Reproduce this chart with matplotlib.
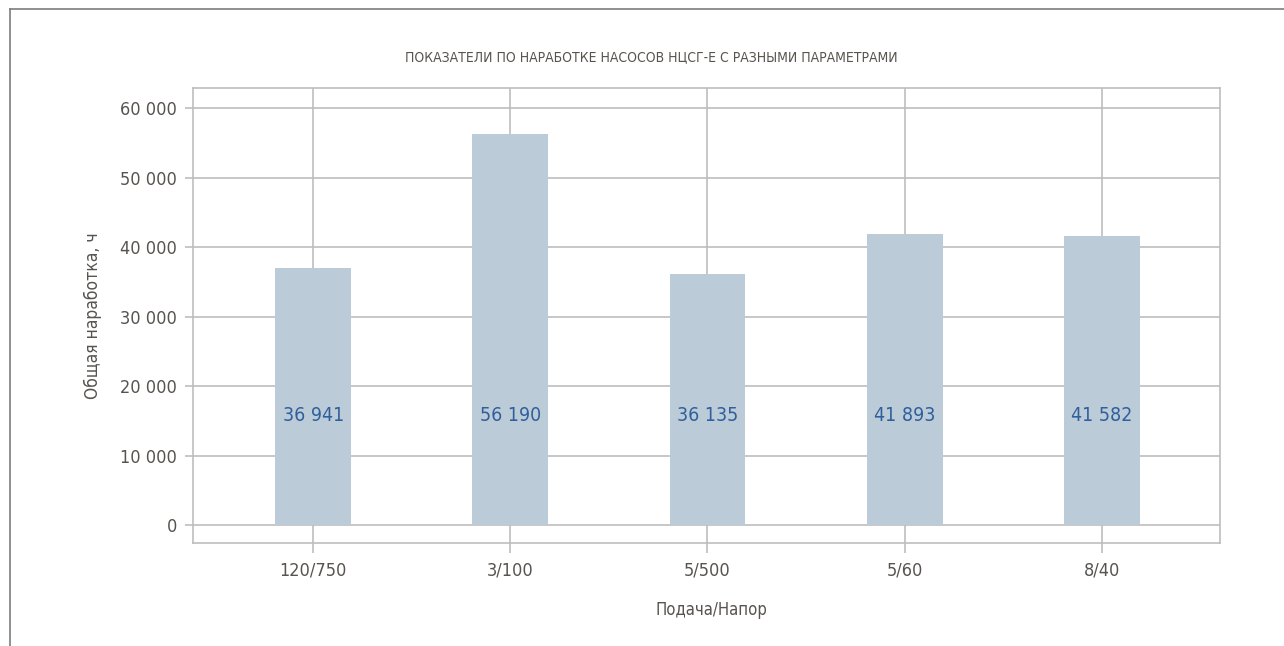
import matplotlib

matplotlib.use("Agg")
import matplotlib.pyplot as plt
from matplotlib.lines import Line2D
import numpy as np

plt.rcParams["font.family"] = ["DejaVu Sans"]
plt.rcParams["font.stretch"] = "condensed"

categories = ["120/750", "3/100", "5/500", "5/60", "8/40"]
values = [36941, 56190, 36135, 41893, 41582]
y_ticks = [0, 10000, 20000, 30000, 40000, 50000, 60000]
title = "ПОКАЗАТЕЛИ ПО НАРАБОТКЕ НАСОСОВ НЦСГ-Е С РАЗНЫМИ ПАРАМЕТРАМИ"
x_label = "Подача/Напор"
y_label = "Общая наработка, ч"

grid_color = "#bdbdbd"
text_color = "#57534f"
bar_color = "#bccbd8"
value_color = "#2f5f9c"


def fmt(v):
    return f"{v:,}".replace(",", " ")


fig = plt.figure(figsize=(12.84, 6.46), dpi=100)
ax = fig.add_axes([193 / 1284, 1 - 543 / 646, 1027 / 1284, 455 / 646])

x = np.arange(len(categories))
ax.bar(x, values, width=0.385, color=bar_color, zorder=3)
for xi, v in zip(x, values):
    ax.text(xi, 15700, fmt(v), ha="center", va="center", fontsize=14,
            color=value_color, zorder=4)

ax.set_xlim(-0.61, 4.6)
ax.set_ylim(-2590, 62880)
ax.set_yticks(y_ticks)
ax.set_yticklabels([fmt(t) for t in y_ticks])
ax.set_xticks(x)
ax.set_xticklabels(categories)
ax.grid(True, color=grid_color, linewidth=1.2, zorder=0)
ax.set_axisbelow(True)
for s in ax.spines.values():
    s.set_color(grid_color)
    s.set_linewidth(1.2)
ax.tick_params(axis="y", length=5.5, width=1.2, color=grid_color, pad=6,
               labelsize=13, labelcolor=text_color)
ax.tick_params(axis="x", length=7, width=1.2, color=grid_color, pad=6,
               labelsize=13, labelcolor=text_color)

ax.set_xlabel(x_label, fontsize=12, color=text_color)
ax.xaxis.set_label_coords(0.505, -0.128)
ax.set_ylabel(y_label, fontsize=12.5, color=text_color)
ax.yaxis.set_label_coords(-0.089, 0.5)

fig.text(651 / 1284, 1 - 57 / 646, title, ha="center", va="center",
         fontsize=10, color=text_color)

# outer frame (top and left edges visible)
fig.add_artist(Line2D([10 / 1284, 10 / 1284], [0, 1 - 9 / 646],
                      transform=fig.transFigure, color="#7d7d7d", linewidth=1.2))
fig.add_artist(Line2D([10 / 1284, 1], [1 - 9 / 646, 1 - 9 / 646],
                      transform=fig.transFigure, color="#7d7d7d", linewidth=1.2))

fig.savefig("out.png", dpi=100)
